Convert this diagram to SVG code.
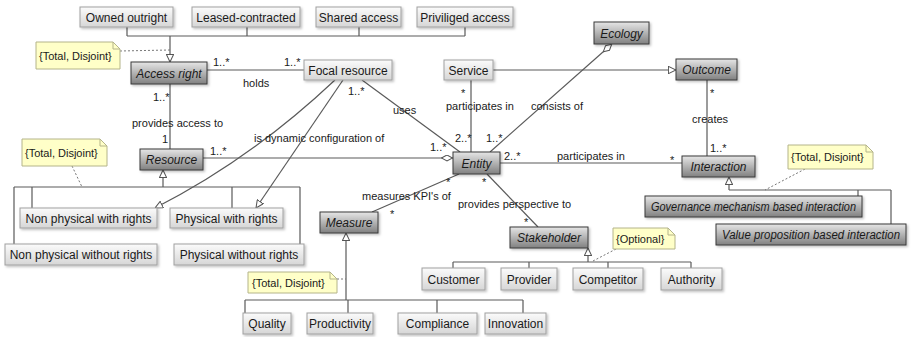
<svg xmlns="http://www.w3.org/2000/svg" width="915" height="337" viewBox="0 0 915 337">
<defs>
<linearGradient id="gl" x1="0" y1="0" x2="0" y2="1"><stop offset="0" stop-color="#fbfbfb"/><stop offset="1" stop-color="#d6d6d6"/></linearGradient>
<linearGradient id="gd" x1="0" y1="0" x2="0" y2="1"><stop offset="0" stop-color="#e6e6e6"/><stop offset="1" stop-color="#808080"/></linearGradient>
<filter id="sh" x="-10%" y="-20%" width="130%" height="160%"><feDropShadow dx="1.5" dy="1.5" stdDeviation="0.8" flood-color="#000" flood-opacity="0.25"/></filter>
<marker id="tri" viewBox="0 0 10 10" refX="10" refY="5" markerWidth="8" markerHeight="8" markerUnits="userSpaceOnUse" orient="auto"><path d="M0.5,0.5 L10,5 L0.5,9.5 Z" fill="#fff" stroke="#555" stroke-width="1.3"/></marker>
<marker id="dia" viewBox="0 0 14 8" refX="14" refY="4" markerWidth="12" markerHeight="7" markerUnits="userSpaceOnUse" orient="auto"><path d="M0.5,4 L7,0.5 L13.5,4 L7,7.5 Z" fill="#fff" stroke="#555" stroke-width="1.2"/></marker>
<marker id="diaS" viewBox="0 0 14 8" refX="0" refY="4" markerWidth="12" markerHeight="7" markerUnits="userSpaceOnUse" orient="auto"><path d="M0.5,4 L7,0.5 L13.5,4 L7,7.5 Z" fill="#fff" stroke="#555" stroke-width="1.2"/></marker>
</defs>
<style>
.lb{fill:url(#gl);stroke:#a0a0a0;stroke-width:1;filter:url(#sh)}
.db{fill:url(#gd);stroke:#3a3a3a;stroke-width:1;filter:url(#sh)}
.nt{fill:#ffffc8;stroke:#b4b48a;stroke-width:1}
.nf{fill:none;stroke:#b4b48a;stroke-width:1}
.t{font-family:"Liberation Sans",Arial,sans-serif;font-size:12px;fill:#1a1a1a;text-anchor:middle}
.ti{font-style:italic}
.l{font-family:"Liberation Sans",Arial,sans-serif;font-size:11px;fill:#1a1a1a}
.c{stroke:#5a5a5a;stroke-width:1.2;fill:none}
.d{stroke:#777;stroke-width:1;stroke-dasharray:2 2;fill:none}
</style>
<rect width="915" height="337" fill="#fff"/>

<g id="connectors">
<path class="c" d="M127,27 V36 M247,27 V36 M359,27 V36 M465,27 V36 M127,36 H465"/>
<path class="c" d="M170,36 V62" marker-end="url(#tri)"/>
<path class="d" d="M120,51 L170,50"/>
<path class="c" d="M207,70 H304"/>
<path class="c" d="M170,84 V149"/>
<path class="c" d="M203,158 H453" marker-end="url(#dia)"/>
<path class="c" d="M163,187 V170" marker-end="url(#tri)"/>
<path class="c" d="M14,187 H300 M14,187 V244 M32,187 V208 M232,187 V208 M300,187 V244"/>
<path class="d" d="M72,166 L82,187"/>
<path class="c" d="M335,80 Q250,160 155,208" marker-end="url(#tri)"/>
<path class="c" d="M343,80 L256,208" marker-end="url(#tri)"/>
<path class="c" d="M362,80 L460,152"/>
<path class="c" d="M471,80 V152"/>
<path class="c" d="M612,44 L490,152" marker-start="url(#diaS)"/>
<path class="c" d="M493,70 H676" marker-end="url(#tri)"/>
<path class="c" d="M707,80 V156"/>
<path class="c" d="M500,163 H682"/>
<path class="c" d="M459,174 L372,212"/>
<path class="c" d="M487,174 L538,227"/>
<path class="c" d="M346,300 V233" marker-end="url(#tri)"/>
<path class="c" d="M245,300 H523 M245,300 V313 M348,300 V313 M437,300 V313 M523,300 V313"/>
<path class="d" d="M337,279 H346"/>
<path class="c" d="M588,262 V248" marker-end="url(#tri)"/>
<path class="c" d="M453,262 H691 M453,262 V268 M529,262 V268 M608,262 V268 M691,262 V268"/>
<path class="d" d="M616,249 L593,261"/>
<path class="c" d="M729,190 V177" marker-end="url(#tri)"/>
<path class="c" d="M729,190 H891 M858,190 V196 M891,190 V224"/>
<path class="d" d="M805,169 L765,190"/>

<text class="l" x="213" y="66">1..*</text>
<text class="l" x="284" y="66">1..*</text>
<text class="l" x="243" y="87">holds</text>
<text class="l" x="153" y="101">1..*</text>
<text class="l" x="132" y="127">provides access to</text>
<text class="l" x="162" y="143">1</text>
<text class="l" x="210" y="155">1..*</text>
<text class="l" x="254" y="142">is dynamic configuration of</text>
<text class="l" x="348" y="95">1..*</text>
<text class="l" x="393" y="114">uses</text>
<text class="l" x="430" y="151">1..*</text>
<text class="l" x="455" y="142">2..*</text>
<text class="l" x="486" y="142">1..*</text>
<text class="l" x="504" y="160">2..*</text>
<text class="l" x="557" y="160">participates in</text>
<text class="l" x="670" y="164">*</text>
<text class="l" x="461" y="97">*</text>
<text class="l" x="446" y="110">participates in</text>
<text class="l" x="531" y="110">consists of</text>
<text class="l" x="710" y="97">*</text>
<text class="l" x="692" y="123">creates</text>
<text class="l" x="710" y="152">1..*</text>
<text class="l" x="362" y="200">measures KPI's of</text>
<text class="l" x="446" y="186">*</text>
<text class="l" x="390" y="218">*</text>
<text class="l" x="482" y="186">*</text>
<text class="l" x="458" y="208">provides perspective to</text>
<text class="l" x="524" y="226">*</text>
</g>

<g id="owned"><rect class="lb" x="80" y="7" width="93" height="20"/><text class="t" x="126.5" y="21.5">Owned outright</text></g>
<g id="leased"><rect class="lb" x="192" y="7" width="108" height="20"/><text class="t" x="246" y="21.5">Leased-contracted</text></g>
<g id="shared"><rect class="lb" x="316" y="7" width="85" height="20"/><text class="t" x="358.5" y="21.5">Shared access</text></g>
<g id="priviliged"><rect class="lb" x="417" y="7" width="96" height="20"/><text class="t" x="465" y="21.5">Priviliged access</text></g>
<g id="focal"><rect class="lb" x="304" y="60" width="88" height="20"/><text class="t" x="348" y="74.5">Focal resource</text></g>
<g id="service"><rect class="lb" x="444" y="60" width="49" height="20"/><text class="t" x="468.5" y="74.5">Service</text></g>
<g id="npwr"><rect class="lb" x="20" y="208" width="137" height="20"/><text class="t" x="88.5" y="222.5">Non physical with rights</text></g>
<g id="pwr"><rect class="lb" x="170" y="208" width="113" height="20"/><text class="t" x="226.5" y="222.5">Physical with rights</text></g>
<g id="npwor"><rect class="lb" x="5" y="244" width="152" height="21"/><text class="t" x="81" y="259">Non physical without rights</text></g>
<g id="pwor"><rect class="lb" x="174" y="244" width="130" height="21"/><text class="t" x="239" y="259">Physical without rights</text></g>
<g id="quality"><rect class="lb" x="243" y="313" width="48" height="21"/><text class="t" x="267" y="328">Quality</text></g>
<g id="productivity"><rect class="lb" x="307" y="313" width="66" height="21"/><text class="t" x="340" y="328">Productivity</text></g>
<g id="compliance"><rect class="lb" x="398" y="313" width="79" height="21"/><text class="t" x="437.5" y="328">Compliance</text></g>
<g id="innovation"><rect class="lb" x="485" y="313" width="61" height="21"/><text class="t" x="515.5" y="328">Innovation</text></g>
<g id="customer"><rect class="lb" x="422" y="268" width="63" height="22"/><text class="t" x="453.5" y="283.5">Customer</text></g>
<g id="provider"><rect class="lb" x="501" y="268" width="56" height="22"/><text class="t" x="529" y="283.5">Provider</text></g>
<g id="competitor"><rect class="lb" x="573" y="268" width="70" height="22"/><text class="t" x="608" y="283.5">Competitor</text></g>
<g id="authority"><rect class="lb" x="661" y="268" width="61" height="22"/><text class="t" x="691.5" y="283.5">Authority</text></g>

<g id="access-right"><rect class="db" x="131" y="62" width="76" height="22"/><text class="t ti" x="169" y="77.5">Access right</text></g>
<g id="resource"><rect class="db" x="140" y="149" width="63" height="21"/><text class="t ti" x="171.5" y="164">Resource</text></g>
<g id="ecology"><rect class="db" x="594" y="22" width="55" height="22"/><text class="t ti" x="621.5" y="37.5">Ecology</text></g>
<g id="outcome"><rect class="db" x="676" y="59" width="61" height="21"/><text class="t ti" x="706.5" y="74">Outcome</text></g>
<g id="entity"><rect class="db" x="453" y="152" width="47" height="22"/><text class="t ti" x="476.5" y="167.5">Entity</text></g>
<g id="interaction"><rect class="db" x="682" y="156" width="73" height="21"/><text class="t ti" x="718.5" y="171">Interaction</text></g>
<g id="measure"><rect class="db" x="320" y="212" width="58" height="21"/><text class="t ti" x="349" y="227">Measure</text></g>
<g id="stakeholder"><rect class="db" x="510" y="227" width="78" height="21"/><text class="t ti" x="549" y="242">Stakeholder</text></g>
<g id="governance"><rect class="db" x="645" y="196" width="217" height="21"/><text class="t ti" x="753.5" y="211" textLength="205" lengthAdjust="spacingAndGlyphs">Governance mechanism based interaction</text></g>
<g id="value-proposition"><rect class="db" x="716" y="224" width="190" height="21"/><text class="t ti" x="811" y="239" textLength="178" lengthAdjust="spacingAndGlyphs">Value proposition based interaction</text></g>

<g id="note-access"><path class="nt" d="M36,42 H113 L120,49 V69 H36 Z"/><path class="nf" d="M113,42 V49 H120"/><text class="l" x="39" y="60">{Total, Disjoint}</text></g>
<g id="note-resource"><path class="nt" d="M22,139 H100 L107,146 V166 H22 Z"/><path class="nf" d="M100,139 V146 H107"/><text class="l" x="25" y="157">{Total, Disjoint}</text></g>
<g id="note-measure"><path class="nt" d="M248,272 H330 L337,279 V293 H248 Z"/><path class="nf" d="M330,272 V279 H337"/><text class="l" x="252" y="287">{Total, Disjoint}</text></g>
<g id="note-stakeholder"><path class="nt" d="M613,228 H668 L675,235 V249 H613 Z"/><path class="nf" d="M668,228 V235 H675"/><text class="l" x="616" y="243">{Optional}</text></g>
<g id="note-interaction"><path class="nt" d="M788,145 H866 L873,152 V169 H788 Z"/><path class="nf" d="M866,145 V152 H873"/><text class="l" x="791" y="161">{Total, Disjoint}</text></g>
</svg>
